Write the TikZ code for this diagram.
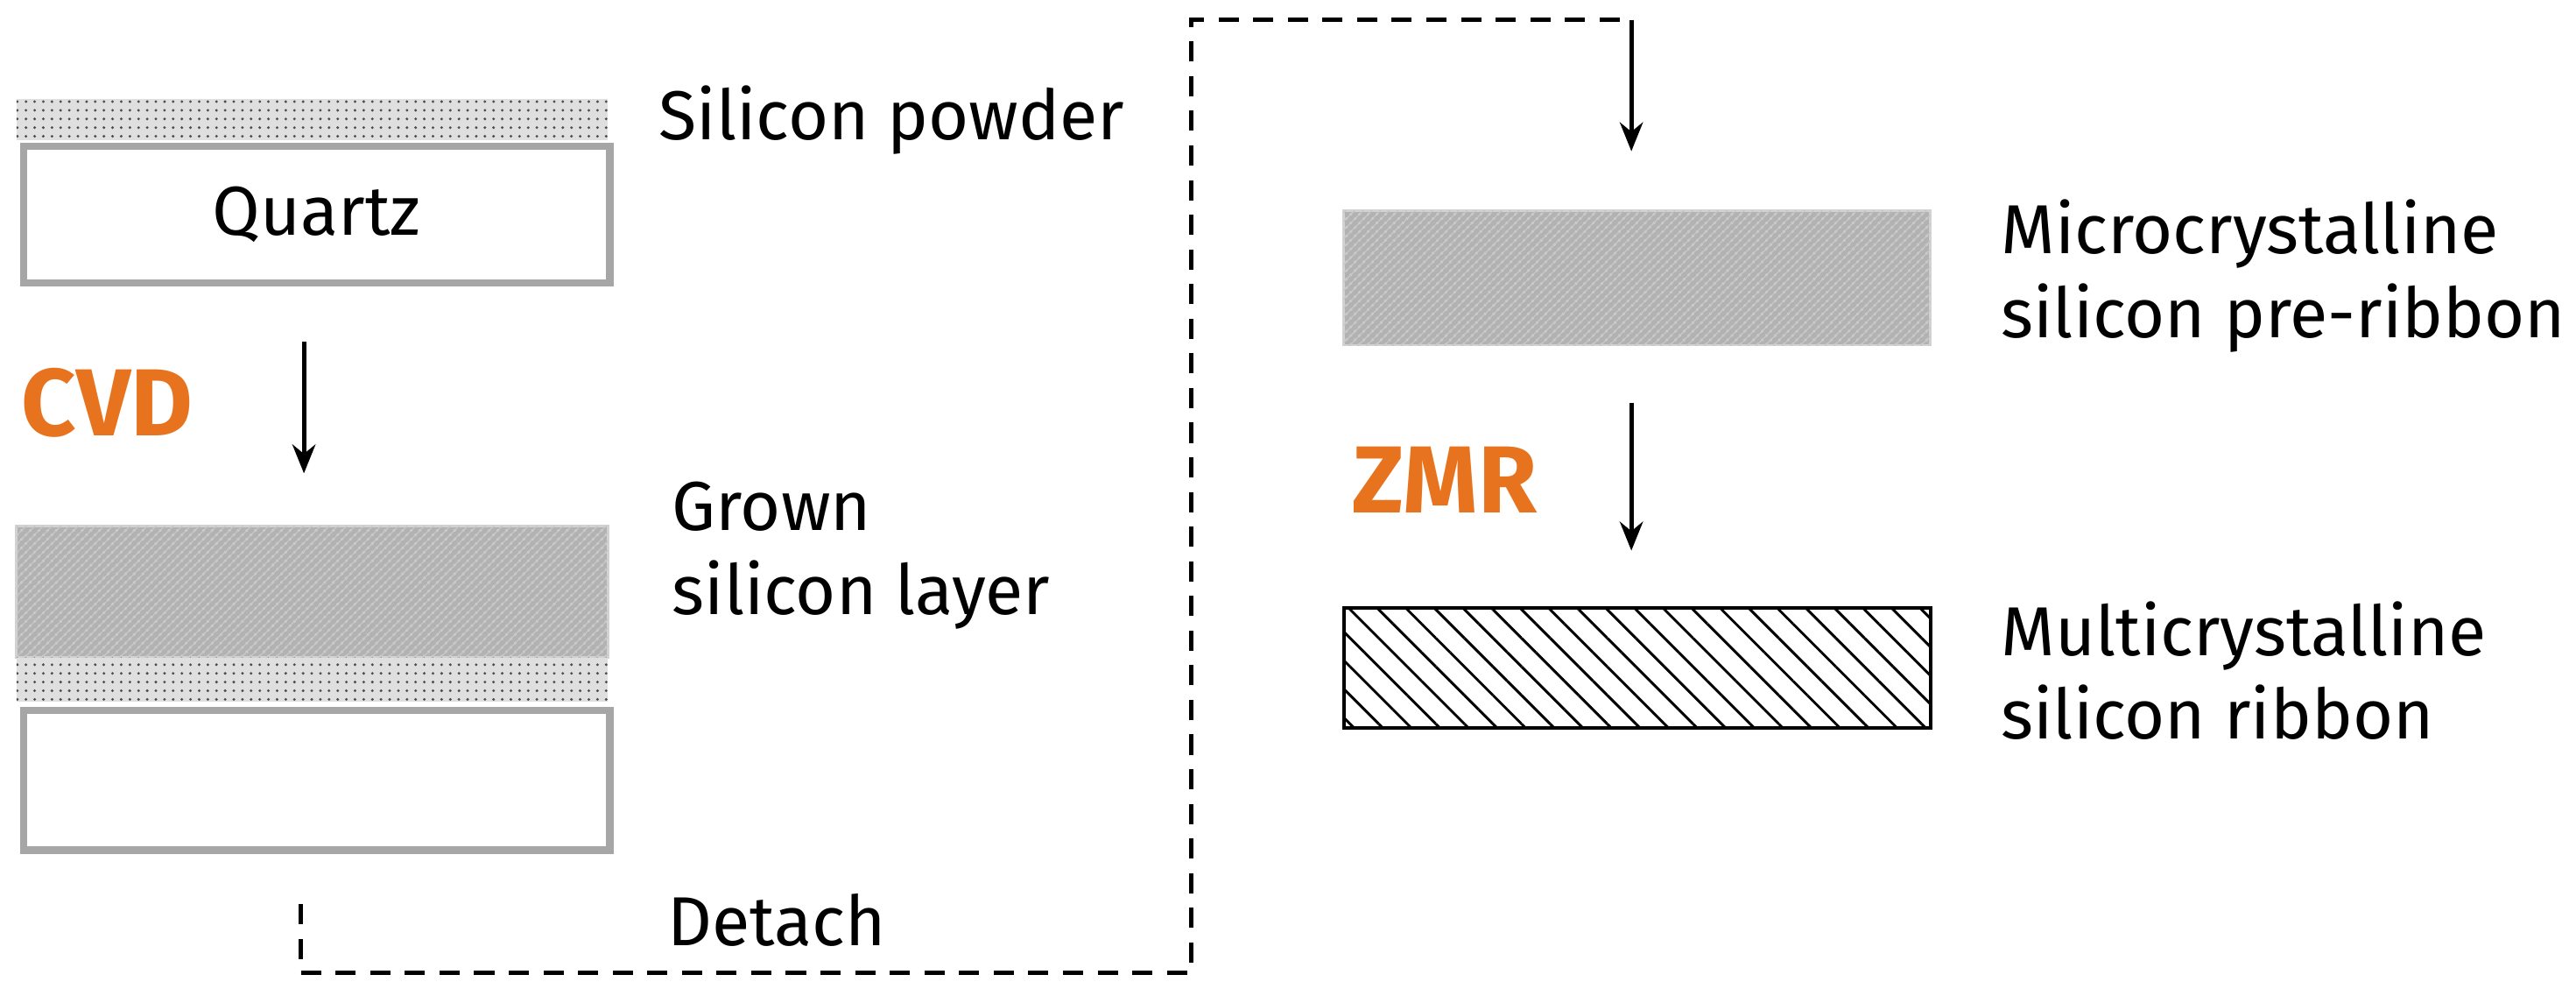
\documentclass[tikz,border=0pt]{standalone}
\usepackage{fontspec}
\setmainfont{Fira Sans}
\usetikzlibrary{patterns,patterns.meta,arrows.meta}
\definecolor{orng}{HTML}{E8731E}
\begin{document}
\begin{tikzpicture}[x=0.02cm,y=-0.02cm,
  lbl/.style={anchor=west,font=\fontsize{24}{29}\selectfont,align=left},
  proc/.style={anchor=west,font=\fontsize{33}{36}\selectfont\bfseries,text=orng},
  powder/.style={fill=gray!25,postaction={pattern=dots,pattern color=black!70}},
  grain/.style={fill=gray!60,draw=gray!35,line width=0.8pt,postaction={pattern=crosshatch dots,pattern color=white!70!gray},postaction={pattern=north east lines,pattern color=gray!45}},
  quartz/.style={draw=gray!70,line width=2.5pt,fill=white},
  arr/.style={-{Stealth[length=10pt,width=8pt]},line width=1.5pt},
  dashline/.style={dash pattern=on 7pt off 5pt,line width=1.6pt}]
\useasboundingbox (0,0) rectangle (1568,610);
% left stack 1
\path[powder] (10,60) rectangle (370,85);
\node[quartz,minimum width=357*0.02cm,minimum height=83*0.02cm,anchor=north west,font=\fontsize{24}{29}\selectfont] (q1) at (12,87) {Quartz};
\node[lbl] (sp) at (395,73) {Silicon powder};
\node[proc] (cvd) at (7,245) {CVD};
\coordinate (a1s) at (185,208);
\coordinate (a1e) at (185,288);
\draw[arr] (a1s) -- (a1e);
% left stack 2
\path[grain] (10,320) rectangle (370,400);
\path[powder] (10,400) rectangle (370,427);
\node[quartz,minimum width=357*0.02cm,minimum height=85*0.02cm,anchor=north west] (q2) at (12,430) {};
\node[lbl] (gl) at (403,338) {Grown\\silicon layer};
\node[lbl] (det) at (400,560) {Detach};
% dashed path
\coordinate (d0) at (183,550);
\coordinate (d1) at (183,592);
\coordinate (d2) at (725,592);
\coordinate (d3) at (725,12);
\coordinate (d4) at (993,12);
\coordinate (d5) at (993,92);
\draw[dashline] (d0) -- (d1) -- (d2) -- (d3) -- (d4);
\draw[arr] (d4) -- (d5);
% right
\path[grain] (818,128) rectangle (1175,210);
\node[lbl] (mc) at (1212,168) {Microcrystalline\\silicon pre-ribbon};
\node[proc] (zmr) at (817,292) {ZMR};
\coordinate (a2s) at (993,245);
\coordinate (a2e) at (993,335);
\draw[arr] (a2s) -- (a2e);
\draw[line width=1.2pt,pattern={Lines[angle=-45,distance=7pt,line width=0.9pt]}] (818,370) rectangle (1175,443);
\node[lbl] (mr) at (1212,408) {Multicrystalline\\silicon ribbon};
\end{tikzpicture}
\end{document}
